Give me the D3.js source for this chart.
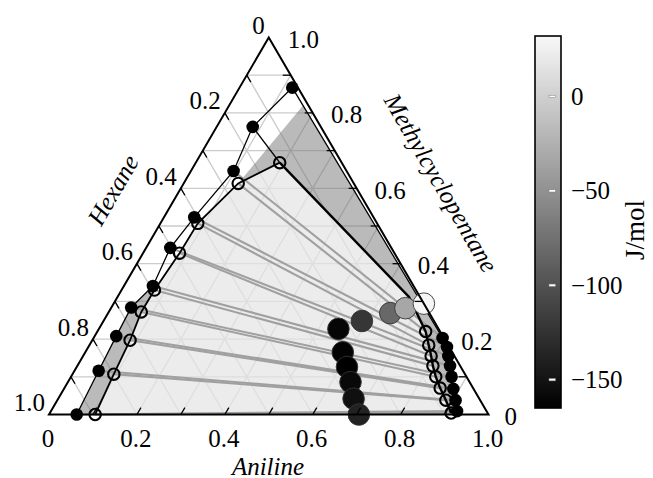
<!DOCTYPE html>
<html><head><meta charset="utf-8">
<script src="https://cdn.jsdelivr.net/npm/d3@7"></script>
<style>
body{margin:0;background:#fff}
svg{display:block}
text{font-family:"Liberation Serif","Times New Roman",serif;fill:#000}
</style>
</head><body>
<svg id="c" width="653" height="478"></svg>
<script>
// ---- data: compositions as [aniline, methylcyclopentane]; hexane = 1 - a - m ----
const tickValues = [0,0.1,0.2,0.3,0.4,0.5,0.6,0.7,0.8,0.9,1.0];
const labelValues = [0,0.2,0.4,0.6,0.8,1.0];
const tickLabels = ["0","0.2","0.4","0.6","0.8","1.0"];
const expHexaneRich = [[0.120,0.867],[0.082,0.763],[0.097,0.646],[0.069,0.523],[0.055,0.442],[0.066,0.341],[0.045,0.284],[0.049,0.208],[0.055,0.116],[0.063,0.000]];
const calcHexaneRich = [[0.191,0.668],[0.124,0.613],[0.085,0.507],[0.083,0.428],[0.075,0.330],[0.074,0.272],[0.086,0.197],[0.094,0.107],[0.105,0.000]];
const expAnilineRich = [[0.794,0.203],[0.816,0.179],[0.831,0.155],[0.848,0.129],[0.866,0.100],[0.886,0.068],[0.906,0.038],[0.924,0.009]];
const calcAnilineRich = [[0.747,0.220],[0.772,0.184],[0.792,0.155],[0.809,0.129],[0.830,0.100],[0.855,0.070],[0.884,0.038],[0.913,0.004]];
const calcBranchKnee = [0.663,0.312];
const expBranchCorner = [0.168,0.818];
const gePointsA = [[0.545,0.227],[0.588,0.248],[0.642,0.269],[0.670,0.282],[0.706,0.294]];
const geValuesA = [-160,-122,-82,-32,30];
const gePointsB = [[0.586,0.165],[0.615,0.126],[0.643,0.086],[0.672,0.042],[0.705,0.000]];
const geValuesB = [-163,-165,-158,-152,-138];
const colorbarDomain = [-165,32];
const colorbarTicks = [0,-50,-100,-150];
const colorbarTickLabels = ["0","\u221250","\u2212100","\u2212150"];

// ---- scales ----
const svg = d3.select("#c");
const X = d3.scaleLinear().domain([0,1]).range([49,488.5]);
const Y = d3.scaleLinear().domain([0,1]).range([414.5,37.5]);
const P = d => [X(d[0] + d[1]/2), Y(d[1])];
const line = d3.line().x(d=>P(d)[0]).y(d=>P(d)[1]);
const gray = d3.scaleLinear().domain(colorbarDomain).range(["#000000","#f8f8f8"]);

// grid
const g = svg.append("g");
const gridLines = [];
tickValues.slice(1,-1).forEach(k=>{
  gridLines.push([[0,k],[1-k,k]]);
  gridLines.push([[k,0],[k,1-k]]);
  gridLines.push([[1-k,0],[0,1-k]]);
});
g.selectAll(".grid").data(gridLines).join("path")
  .attr("d",line).attr("stroke","#cbcbcb").attr("stroke-width",1.3).attr("fill","none");

// fills
const lightPoly = [...calcHexaneRich.slice().reverse(), calcBranchKnee, ...calcAnilineRich, [calcAnilineRich[calcAnilineRich.length-1][0],0], [calcHexaneRich[calcHexaneRich.length-1][0],0]];
g.append("path").attr("d",line(lightPoly)+"Z").attr("fill","#e5e5e5").attr("fill-opacity",0.72);
const darkTop = [calcHexaneRich[1], expBranchCorner, ...expAnilineRich, [expAnilineRich[expAnilineRich.length-1][0],0], [calcAnilineRich[calcAnilineRich.length-1][0],0], ...calcAnilineRich.slice().reverse(), calcBranchKnee, calcHexaneRich[0]];
g.append("path").attr("d",line(darkTop)+"Z").attr("fill","#767676").attr("fill-opacity",0.5);
g.append("path").attr("d",line([...expHexaneRich.slice(5), ...calcHexaneRich.slice(4).reverse()])+"Z").attr("fill","#767676").attr("fill-opacity",0.5);

// tie lines
const ties = [];
expHexaneRich.slice(2).forEach((d,i)=>ties.push([d, expAnilineRich[i]]));
calcHexaneRich.slice(1).forEach((d,i)=>ties.push([d, calcAnilineRich[i]]));
g.selectAll(".tie").data(ties).join("path").attr("d",line)
  .attr("stroke","#a0a0a0").attr("stroke-width",2.1).attr("fill","none");

// binodals
g.append("path").attr("d",line([...expHexaneRich.slice().reverse(), ...expAnilineRich]))
  .attr("stroke","#000").attr("stroke-width",1.3).attr("fill","none");
g.append("path").attr("d",line([expHexaneRich[1], calcHexaneRich[0]]))
  .attr("stroke","#000").attr("stroke-width",1.4).attr("fill","none");
g.append("path").attr("d",line([...calcHexaneRich.slice().reverse()]))
  .attr("stroke","#000").attr("stroke-width",1.8).attr("fill","none");
g.append("path").attr("d",line([calcHexaneRich[0], calcBranchKnee, ...calcAnilineRich]))
  .attr("stroke","#000").attr("stroke-width",2.4).attr("fill","none").attr("stroke-linejoin","round");

// small markers
g.selectAll(".ef").data([...expHexaneRich, ...expAnilineRich]).join("circle")
  .attr("cx",d=>P(d)[0]).attr("cy",d=>P(d)[1]).attr("r",6.3).attr("fill","#000");
g.selectAll(".co").data([...calcHexaneRich, ...calcAnilineRich]).join("circle")
  .attr("cx",d=>P(d)[0]).attr("cy",d=>P(d)[1]).attr("r",5.7)
  .attr("fill","none").attr("stroke","#000").attr("stroke-width",2.1);

// big GE markers
const big = [...gePointsA.map((d,i)=>({p:d,v:geValuesA[i]})), ...gePointsB.map((d,i)=>({p:d,v:geValuesB[i]}))];
g.selectAll(".big").data(big).join("circle")
  .attr("cx",d=>P(d.p)[0]).attr("cy",d=>P(d.p)[1]).attr("r",10.8)
  .attr("fill",d=>gray(d.v)).attr("stroke","#333").attr("stroke-width",0.9);

// frame
g.append("path").attr("d",line([[0,0],[1,0],[0,1]])+"Z").attr("fill","none").attr("stroke","#000").attr("stroke-width",2).attr("stroke-linejoin","miter");

// ticks
const tl = 8;
const dA = tl/Math.hypot(X(0.5)-X(0),Y(1)-Y(0));
const dM = tl/(X(1)-X(0));
const ticks = [];
tickValues.slice(1,-1).forEach(k=>{
  ticks.push([[k,0],[k,dA]]);               // aniline (bottom)
  ticks.push([[0,1-k],[dA,1-k-dA]]);        // hexane (left)
  ticks.push([[1-k,k],[1-k-dM,k]]);         // MCP (right)
});
g.selectAll(".tk").data(ticks).join("path").attr("d",line).attr("stroke","#000").attr("stroke-width",1.3);

// tick labels
const fs = 25;
labelValues.forEach((v,i)=>{
  const b = P([v,0]);
  g.append("text").attr("x",b[0]-1).attr("y",b[1]+32).attr("text-anchor","middle").attr("font-size",fs).text(tickLabels[i]);
  const l = P([0,1-v]);
  g.append("text").attr("x",l[0]-4).attr("y",l[1]-3.5).attr("text-anchor","end").attr("font-size",fs).text(tickLabels[i]);
  const r = P([1-v,v]);
  g.append("text").attr("x",r[0]+16+1.5*v*2).attr("y",r[1]+10.5).attr("text-anchor","start").attr("font-size",fs).text(tickLabels[i]);
});

// axis titles
g.append("text").attr("transform","translate(113,190) rotate(-60)").attr("text-anchor","middle")
  .attr("dominant-baseline","central").attr("font-size",25).attr("font-style","italic").text("Hexane");
g.append("text").attr("transform","translate(441,183) rotate(60)").attr("text-anchor","middle")
  .attr("dominant-baseline","central").attr("font-size",25).attr("font-style","italic").text("Methylcyclopentane");
g.append("text").attr("x",268).attr("y",466).attr("text-anchor","middle")
  .attr("dominant-baseline","central").attr("font-size",25).attr("font-style","italic").text("Aniline");

// colorbar
const cb = d3.scaleLinear().domain(colorbarDomain).range([408,36]);
const defs = svg.append("defs");
const grad = defs.append("linearGradient").attr("id","gr").attr("x1",0).attr("y1",1).attr("x2",0).attr("y2",0);
d3.range(0,1.0001,0.1).forEach(t=>{
  grad.append("stop").attr("offset",t).attr("stop-color",gray(colorbarDomain[0]+t*(colorbarDomain[1]-colorbarDomain[0])));
});
svg.append("rect").attr("x",535).attr("y",cb(colorbarDomain[1])).attr("width",26)
  .attr("height",cb(colorbarDomain[0])-cb(colorbarDomain[1]))
  .attr("fill","url(#gr)").attr("stroke","#000").attr("stroke-width",1.6);
colorbarTicks.forEach((v,i)=>{
  svg.append("rect").attr("x",549).attr("y",cb(v)-1.2).attr("width",6.5).attr("height",2.4)
    .attr("fill","#fff").attr("stroke","#777").attr("stroke-width",0.5);
  svg.append("text").attr("x",571).attr("y",cb(v)+8.5).attr("font-size",fs).text(colorbarTickLabels[i]);
});
svg.append("text").attr("transform","translate(635,230) rotate(-90)").attr("text-anchor","middle")
  .attr("dominant-baseline","central").attr("font-size",27).text("J/mol");
</script>
</body></html>
